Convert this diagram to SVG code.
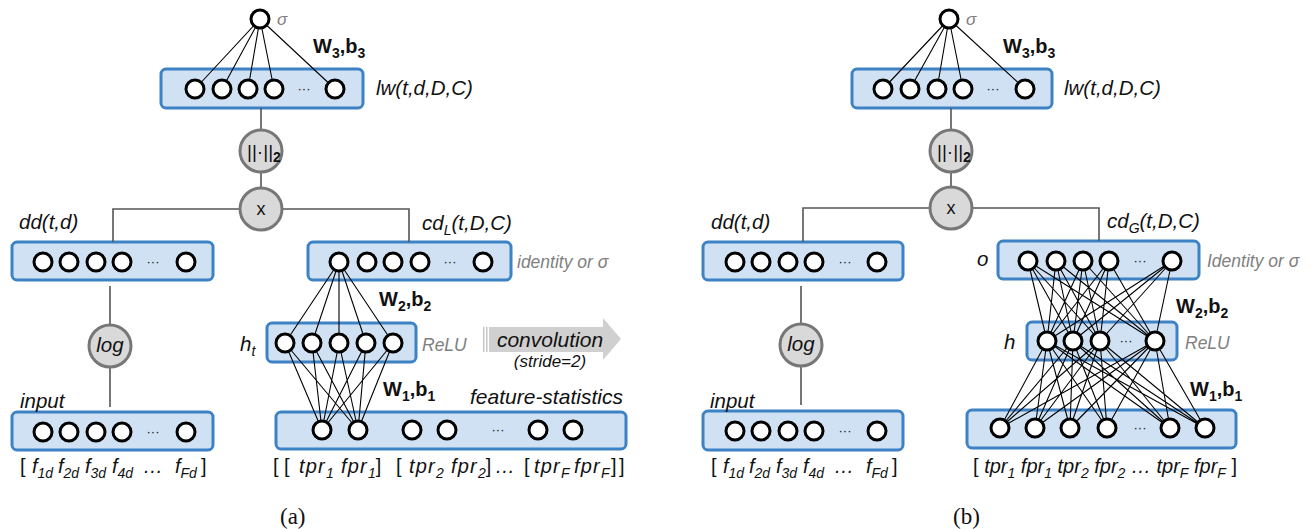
<svg xmlns="http://www.w3.org/2000/svg" width="1311" height="529" viewBox="0 0 1311 529">
<style>
text{font-family:"Liberation Sans",Arial,sans-serif;fill:#111}
.box{fill:#cfe1f3;stroke:#3d82c4;stroke-width:3}
.u{fill:#fff;stroke:#000;stroke-width:3}
.op{fill:#d9d9d9;stroke:#777;stroke-width:3}
.ln{stroke:#000;stroke-width:1.1;fill:none}
.gl{stroke:#555;stroke-width:1.6;fill:none}
.lab{font-style:italic;font-size:20.5px}
.bl{font-style:italic;font-size:20px}
.tp{letter-spacing:1.2px}
.gr{font-style:italic;font-size:17.5px;fill:#808080}
.w{font-weight:bold;font-size:20px}
.dots{font-size:13px;text-anchor:middle}
.sm{font-size:14px;letter-spacing:0}
.up{font-style:normal}
.cap{font-family:"Liberation Serif","DejaVu Serif",serif;font-size:23px}
</style>

<!-- ===== layer boxes (a) ===== -->
<g id="a-lw"><rect class="box" x="161" y="69" width="202" height="39" rx="5"/><text class="lab" x="376" y="95">lw(t,d,D,C)</text></g>
<g id="a-dd"><rect class="box" x="12" y="242" width="201" height="38" rx="5"/><text class="lab" x="19" y="229">dd(t,d)</text></g>
<g id="a-input"><rect class="box" x="12" y="412" width="201" height="38" rx="5"/><text class="lab" x="20" y="408">input</text></g>
<g id="a-cd"><rect class="box" x="308" y="242" width="203" height="38" rx="5"/><text class="lab" x="422" y="230">cd<tspan class="sm" dy="5">L</tspan><tspan dy="-5">(t,D,C)</tspan></text><text class="gr" x="517" y="268">identity or σ</text></g>
<g id="a-h"><rect class="box" x="267" y="323" width="149" height="39" rx="5"/><text class="lab" x="240" y="351">h<tspan class="sm" dy="5">t</tspan></text><text class="gr" x="422" y="351">ReLU</text></g>
<g id="a-feat"><rect class="box" x="276" y="412" width="350" height="37" rx="5"/><text class="lab" x="470" y="404" style="font-size:21px">feature-statistics</text></g>

<!-- ===== layer boxes (b) ===== -->
<g id="b-lw"><rect class="box" x="852" y="69" width="200" height="39" rx="5"/><text class="lab" x="1064" y="95">lw(t,d,D,C)</text></g>
<g id="b-dd"><rect class="box" x="703" y="242" width="200" height="38" rx="5"/><text class="lab" x="711" y="229">dd(t,d)</text></g>
<g id="b-input"><rect class="box" x="703" y="411" width="200" height="39" rx="5"/><text class="lab" x="710" y="408">input</text></g>
<g id="b-cd"><rect class="box" x="998" y="241" width="201" height="38" rx="5"/><text class="lab" x="1107" y="228">cd<tspan class="sm" dy="5">G</tspan><tspan dy="-5">(t,D,C)</tspan></text><text class="lab" x="977" y="266">o</text><text class="gr" x="1207" y="267">Identity or σ</text></g>
<g id="b-h"><rect class="box" x="1027" y="322" width="150" height="38" rx="5"/><text class="lab" x="1004" y="349">h</text><text class="gr" x="1185" y="349">ReLU</text></g>
<g id="b-feat"><rect class="box" x="967" y="410" width="269" height="38" rx="5"/></g>

<!-- ===== connectors ===== -->
<g id="connectors">
 <path class="ln" d="M260 19L195 89M260 19L222 89M260 19L248 89M260 19L274 89M260 19L335 89"/>
 <path class="gl" d="M261 108V130M261 172V187M240 209H113V242M282 209H409V242M110 286V325M110 367V407"/>
 <path class="ln" d="M339 262L285 343M339 262L312 343M339 262L339 343M339 262L366 343M339 262L393 343"/>
 <path class="ln" d="M285 343L322 430M312 343L322 430M339 343L322 430M366 343L322 430M393 343L322 430M285 343L358 430M312 343L358 430M339 343L358 430M366 343L358 430M393 343L358 430"/>
 <path class="ln" d="M949 19L883 89M949 19L910 89M949 19L937 89M949 19L963 89M949 19L1025 89"/>
 <path class="gl" d="M951 108V130M951 172V187M930 208H803V242M972 208H1099V241M801 286V324M801 366V405"/>
 <path class="ln" d="M1028 261L1047 341M1028 261L1073 341M1028 261L1100 341M1028 261L1155 341M1056 261L1047 341M1056 261L1073 341M1056 261L1100 341M1056 261L1155 341M1083 261L1047 341M1083 261L1073 341M1083 261L1100 341M1083 261L1155 341M1109 261L1047 341M1109 261L1073 341M1109 261L1100 341M1109 261L1155 341M1172 261L1047 341M1172 261L1073 341M1172 261L1100 341M1172 261L1155 341"/>
 <path class="ln" d="M1047 341L1000 428M1047 341L1035 428M1047 341L1070 428M1047 341L1107 428M1047 341L1170 428M1047 341L1205 428M1073 341L1000 428M1073 341L1035 428M1073 341L1070 428M1073 341L1107 428M1073 341L1170 428M1073 341L1205 428M1100 341L1000 428M1100 341L1035 428M1100 341L1070 428M1100 341L1107 428M1100 341L1170 428M1100 341L1205 428M1155 341L1000 428M1155 341L1035 428M1155 341L1070 428M1155 341L1107 428M1155 341L1170 428M1155 341L1205 428"/>
</g>

<!-- ===== units / operators (a) ===== -->
<g id="a-out"><circle class="u" cx="260" cy="19" r="9"/><text class="gr" x="277" y="25" style="font-size:17px">σ</text><text class="w" x="313" y="53">W<tspan class="sm" dy="5">3</tspan><tspan dy="-5">,b</tspan><tspan class="sm" dy="5">3</tspan></text></g>
<g id="a-lw-units"><circle class="u" cx="195" cy="89" r="9"/><circle class="u" cx="222" cy="89" r="9"/><circle class="u" cx="248" cy="89" r="9"/><circle class="u" cx="274" cy="89" r="9"/><text class="dots" x="304" y="93">···</text><circle class="u" cx="335" cy="89" r="9"/></g>
<g id="a-norm"><circle class="op" cx="261" cy="151" r="21"/><text x="247" y="158" style="font-size:19px">||·||<tspan class="sm" dy="4" font-weight="bold">2</tspan></text></g>
<g id="a-mul"><circle class="op" cx="261" cy="209" r="21"/><text x="261" y="215" style="font-size:18px" text-anchor="middle">x</text></g>
<g id="a-dd-units"><circle class="u" cx="43" cy="262" r="9"/><circle class="u" cx="69" cy="262" r="9"/><circle class="u" cx="96" cy="262" r="9"/><circle class="u" cx="122" cy="262" r="9"/><text class="dots" x="153" y="266">···</text><circle class="u" cx="186" cy="262" r="9"/></g>
<g id="a-log"><circle class="op" cx="110" cy="346" r="21"/><text class="lab" x="110" y="352" text-anchor="middle">log</text></g>
<g id="a-input-units"><circle class="u" cx="43" cy="432" r="9"/><circle class="u" cx="69" cy="432" r="9"/><circle class="u" cx="96" cy="432" r="9"/><circle class="u" cx="122" cy="432" r="9"/><text class="dots" x="153" y="436">···</text><circle class="u" cx="186" cy="432" r="9"/>
 <text class="bl" y="473"><tspan x="20" class="up">[</tspan><tspan x="32">f</tspan><tspan class="sm" dy="5">1d</tspan><tspan x="58" dy="-5">f</tspan><tspan class="sm" dy="5">2d</tspan><tspan x="85" dy="-5">f</tspan><tspan class="sm" dy="5">3d</tspan><tspan x="112" dy="-5">f</tspan><tspan class="sm" dy="5">4d</tspan><tspan x="143" dy="-5">…</tspan><tspan x="175">f</tspan><tspan class="sm" dy="5">Fd</tspan><tspan x="201" dy="-5" class="up">]</tspan></text></g>
<g id="a-cd-units"><circle class="u" cx="339" cy="262" r="9"/><circle class="u" cx="367" cy="262" r="9"/><circle class="u" cx="393" cy="262" r="9"/><circle class="u" cx="420" cy="262" r="9"/><text class="dots" x="450" y="266">···</text><circle class="u" cx="483" cy="262" r="9"/><text class="w" x="379" y="306">W<tspan class="sm" dy="5">2</tspan><tspan dy="-5">,b</tspan><tspan class="sm" dy="5">2</tspan></text></g>
<g id="a-h-units"><circle class="u" cx="285" cy="343" r="9"/><circle class="u" cx="312" cy="343" r="9"/><circle class="u" cx="339" cy="343" r="9"/><circle class="u" cx="366" cy="343" r="9"/><circle class="u" cx="393" cy="343" r="9"/><text class="w" x="383" y="396">W<tspan class="sm" dy="5">1</tspan><tspan dy="-5">,b</tspan><tspan class="sm" dy="5">1</tspan></text></g>
<g id="a-feat-units"><circle class="u" cx="322" cy="430" r="9"/><circle class="u" cx="358" cy="430" r="9"/><circle class="u" cx="412" cy="430" r="9"/><circle class="u" cx="447" cy="430" r="9"/><text class="dots" x="498" y="434">···</text><circle class="u" cx="538" cy="430" r="9"/><circle class="u" cx="573" cy="430" r="9"/>
 <text class="bl" y="473"><tspan x="273" class="up">[</tspan><tspan x="284" class="up">[</tspan><tspan x="299" class="tp">tpr</tspan><tspan class="sm" dy="5">1</tspan><tspan x="341" dy="-5" class="tp">fpr</tspan><tspan class="sm" dy="5">1</tspan><tspan dy="-5" class="up">]</tspan><tspan x="396" class="up">[</tspan><tspan x="409" class="tp">tpr</tspan><tspan class="sm" dy="5">2</tspan><tspan x="451" dy="-5" class="tp">fpr</tspan><tspan class="sm" dy="5">2</tspan><tspan dy="-5" class="up">]</tspan><tspan x="495">…</tspan><tspan x="524" class="up">[</tspan><tspan x="534" class="tp">tpr</tspan><tspan class="sm" dy="5">F</tspan><tspan x="574" dy="-5" class="tp">fpr</tspan><tspan class="sm" dy="5">F</tspan><tspan x="611" dy="-5" class="up">]</tspan><tspan x="619" class="up">]</tspan></text></g>

<!-- convolution arrow -->
<g id="a-conv">
 <rect x="483" y="327" width="1.5" height="25" fill="#c8c8c8"/><rect x="486" y="327" width="1.5" height="25" fill="#c8c8c8"/>
 <polygon points="489,327 603,327 603,318 621,339 603,360 603,352 489,352" fill="#d0d0d0"/>
 <text class="lab" x="550" y="347" text-anchor="middle" style="font-size:21px">convolution</text>
 <text class="lab" x="550" y="367" text-anchor="middle" style="font-size:17px">(stride=2)</text>
</g>

<!-- ===== units / operators (b) ===== -->
<g id="b-out"><circle class="u" cx="949" cy="19" r="9"/><text class="gr" x="966" y="25" style="font-size:17px">σ</text><text class="w" x="1003" y="53">W<tspan class="sm" dy="5">3</tspan><tspan dy="-5">,b</tspan><tspan class="sm" dy="5">3</tspan></text></g>
<g id="b-lw-units"><circle class="u" cx="883" cy="89" r="9"/><circle class="u" cx="910" cy="89" r="9"/><circle class="u" cx="937" cy="89" r="9"/><circle class="u" cx="963" cy="89" r="9"/><text class="dots" x="993" y="93">···</text><circle class="u" cx="1025" cy="89" r="9"/></g>
<g id="b-norm"><circle class="op" cx="951" cy="151" r="21"/><text x="937" y="158" style="font-size:19px">||·||<tspan class="sm" dy="4" font-weight="bold">2</tspan></text></g>
<g id="b-mul"><circle class="op" cx="951" cy="208" r="21"/><text x="951" y="214" style="font-size:18px" text-anchor="middle">x</text></g>
<g id="b-dd-units"><circle class="u" cx="735" cy="262" r="9"/><circle class="u" cx="761" cy="262" r="9"/><circle class="u" cx="788" cy="262" r="9"/><circle class="u" cx="814" cy="262" r="9"/><text class="dots" x="845" y="266">···</text><circle class="u" cx="877" cy="262" r="9"/></g>
<g id="b-log"><circle class="op" cx="801" cy="345" r="21"/><text class="lab" x="801" y="351" text-anchor="middle">log</text></g>
<g id="b-input-units"><circle class="u" cx="735" cy="431" r="9"/><circle class="u" cx="761" cy="431" r="9"/><circle class="u" cx="788" cy="431" r="9"/><circle class="u" cx="814" cy="431" r="9"/><text class="dots" x="845" y="435">···</text><circle class="u" cx="877" cy="431" r="9"/>
 <text class="bl" y="473"><tspan x="711" class="up">[</tspan><tspan x="723">f</tspan><tspan class="sm" dy="5">1d</tspan><tspan x="749" dy="-5">f</tspan><tspan class="sm" dy="5">2d</tspan><tspan x="776" dy="-5">f</tspan><tspan class="sm" dy="5">3d</tspan><tspan x="803" dy="-5">f</tspan><tspan class="sm" dy="5">4d</tspan><tspan x="834" dy="-5">…</tspan><tspan x="866">f</tspan><tspan class="sm" dy="5">Fd</tspan><tspan x="892" dy="-5" class="up">]</tspan></text></g>
<g id="b-cd-units"><circle class="u" cx="1028" cy="261" r="9"/><circle class="u" cx="1056" cy="261" r="9"/><circle class="u" cx="1083" cy="261" r="9"/><circle class="u" cx="1109" cy="261" r="9"/><text class="dots" x="1140" y="265">···</text><circle class="u" cx="1172" cy="261" r="9"/><text class="w" x="1176" y="313">W<tspan class="sm" dy="5">2</tspan><tspan dy="-5">,b</tspan><tspan class="sm" dy="5">2</tspan></text></g>
<g id="b-h-units"><circle class="u" cx="1047" cy="341" r="9"/><circle class="u" cx="1073" cy="341" r="9"/><circle class="u" cx="1100" cy="341" r="9"/><text class="dots" x="1126" y="345">···</text><circle class="u" cx="1155" cy="341" r="9"/><text class="w" x="1190" y="396">W<tspan class="sm" dy="5">1</tspan><tspan dy="-5">,b</tspan><tspan class="sm" dy="5">1</tspan></text></g>
<g id="b-feat-units"><circle class="u" cx="1000" cy="428" r="9"/><circle class="u" cx="1035" cy="428" r="9"/><circle class="u" cx="1070" cy="428" r="9"/><circle class="u" cx="1107" cy="428" r="9"/><text class="dots" x="1140" y="432">···</text><circle class="u" cx="1170" cy="428" r="9"/><circle class="u" cx="1205" cy="428" r="9"/>
 <text class="bl" x="973" y="473" xml:space="preserve"><tspan class="up">[ </tspan><tspan>tpr</tspan><tspan class="sm" dy="5">1</tspan><tspan dy="-5"> fpr</tspan><tspan class="sm" dy="5">1</tspan><tspan dy="-5"> tpr</tspan><tspan class="sm" dy="5">2</tspan><tspan dy="-5"> fpr</tspan><tspan class="sm" dy="5">2</tspan><tspan dy="-5"> … tpr</tspan><tspan class="sm" dy="5">F</tspan><tspan dy="-5"> fpr</tspan><tspan class="sm" dy="5">F</tspan><tspan dy="-5" class="up"> ]</tspan></text></g>

<g id="captions"><text class="cap" x="280" y="524">(a)</text><text class="cap" x="953" y="524">(b)</text></g>
</svg>
